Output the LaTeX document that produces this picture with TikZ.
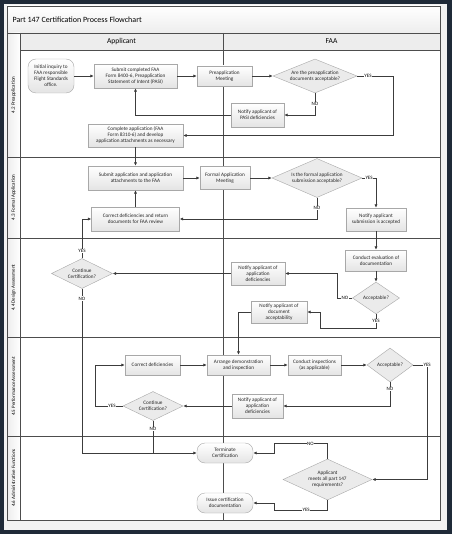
\documentclass[tikz,border=0pt]{standalone}
\usepackage{fontspec}
\setmainfont{Carlito}
\usetikzlibrary{shapes.geometric,arrows.meta}

\definecolor{bgdark}{HTML}{1F2A38}
\definecolor{panel}{HTML}{F2F2F2}
\definecolor{frameline}{HTML}{4D4D4D}
\definecolor{hdrfill}{HTML}{EDEDED}
\definecolor{boxline}{HTML}{A8A8A8}
\definecolor{boxfill}{HTML}{E4E4E4}
\definecolor{decfill}{HTML}{EBEBEB}
\definecolor{flowline}{HTML}{3C3C3C}

\tikzset{
  txt/.style={font=\fontsize{5.2}{6}\selectfont, text=black!85},
  box/.style={txt, draw=boxline, top color=white, bottom color=boxfill, align=center, inner sep=1pt},
  rbox/.style={box, rounded corners=8pt},
  dec/.style={txt, diamond, draw=boxline, fill=decfill, align=center, inner sep=0pt},
  lbl/.style={font=\fontsize{5}{5.5}\selectfont, fill=white, inner sep=0.5pt},
  flow/.style={draw=flowline, line width=0.85pt, -{Latex[length=3.5pt,width=3.2pt]}},
  lane/.style={draw=frameline, line width=0.7pt}
}

\begin{document}
\begin{tikzpicture}[x=1pt,y=-1pt]
\useasboundingbox (0,0) rectangle (452,534);
\fill[bgdark] (0,0) rectangle (452,534);
\fill[panel] (4,4) rectangle (447,530);

\begin{scope}[lane]
    \filldraw[fill=white] (7,6) rectangle (440,520);
    \shade[top color=white, bottom color=hdrfill] (7,6) rectangle (440,33);
    \fill[hdrfill] (20,33) rectangle (440,50);
    \shade[left color=hdrfill, right color=white] (7,33) rectangle (20,520);
    \draw (7,6) rectangle (440,520);
    \draw (7,33) -- (440,33);
    \draw (20,50) -- (440,50);
    \draw (20,33) -- (20,520);
    \draw (223,33) -- (223,520);
    \foreach \y in {157,238,337,436}
        \draw (7,\y) -- (440,\y);
\end{scope}

\node[anchor=west, font=\fontsize{8}{9}\selectfont] (title) at (9,20) {Part 147 Certification Process Flowchart};
\node[font=\fontsize{7.5}{8}\selectfont] (happ) at (121.5,41.5) {Applicant};
\node[font=\fontsize{7.5}{8}\selectfont] (hfaa) at (331.5,41.5) {FAA};

\foreach \y/\t [count=\i] in {95/4.2 Preapplication, 197.5/4.3 Formal Application, 287.5/4.4 Design Assessment, 386.5/4.5 Performance Assessment, 478/4.6 Administrative Functions}
    \node[rotate=90, font=\fontsize{5}{5.5}\selectfont] (lane\i) at (13.5,\y) {\t};

\begin{scope}[every node/.style={box}]
    \node[rbox, minimum width=46, minimum height=34] (inq) at (51,76) {Initial inquiry to\\FAA responsible\\Flight Standards\\office.};
    \node[minimum width=83, minimum height=24] (pasi) at (135.5,76) {Submit completed FAA\\Form 8400-6, Preapplication\\Statement of Intent (PASI)};
    \node[minimum width=55, minimum height=20] (pmeet) at (224.5,76) {Preapplication\\Meeting};
    \node[minimum width=53, minimum height=24] (ntpasi) at (257.5,115) {Notify applicant of\\PASI deficiencies};
    \node[minimum width=95, minimum height=23] (compl) at (135.5,135.5) {Complete application (FAA\\Form 8310-6) and develop\\application attachments as necessary};

    \node[minimum width=95, minimum height=24] (subm) at (135.5,178) {Submit application and application\\attachments to the FAA};
    \node[minimum width=50, minimum height=23] (fmeet) at (225,178) {Formal Application\\Meeting};
    \node[minimum width=60, minimum height=23] (ntacc) at (376,219.5) {Notify applicant\\submission is accepted};
    \node[minimum width=88, minimum height=24] (corr) at (135.5,219) {Correct deficiencies and return\\documents for FAA review};

    \node[minimum width=61, minimum height=21] (eval) at (376,260.5) {Conduct evaluation of\\documentation};
    \node[minimum width=54, minimum height=23] (ntdef) at (258,273.5) {Notify applicant of\\application\\deficiencies};
    \node[minimum width=56, minimum height=22] (ntdoc) at (279,312) {Notify applicant of\\document\\acceptability};

    \node[minimum width=55, minimum height=20] (corrb) at (152.5,365) {Correct deficiencies};
    \node[minimum width=63, minimum height=20] (arr) at (238.5,365) {Arrange demonstration\\and inspection};
    \node[minimum width=53, minimum height=20] (insp) at (314.5,365) {Conduct inspections\\(as applicable)};
    \node[minimum width=51, minimum height=24] (ntdefb) at (257.5,406) {Notify applicant of\\application\\deficiencies};

    \node[rbox, minimum width=56, minimum height=20] (term) at (225,453) {Terminate\\Certification};
    \node[rbox, minimum width=56, minimum height=20] (issue) at (225,503) {Issue certification\\documentation};
\end{scope}

\begin{scope}[every node/.style={dec}]
    \node[aspect=2.5, minimum width=84, minimum height=34] (dpre) at (315,76) {Are the preapplication\\documents acceptable?};
    \node[aspect=2.3, minimum width=90, minimum height=39] (dformal) at (317,178) {Is the formal application\\submission acceptable?};
    \node[aspect=1.5, minimum width=47, minimum height=32] (dacc) at (376,298) {Acceptable?};
    \node[aspect=2, minimum width=61, minimum height=30] (conta) at (82,273.5) {Continue\\Certification?};
    \node[aspect=1.35, minimum width=46, minimum height=34] (daccb) at (390,365) {Acceptable?};
    \node[aspect=2, minimum width=60, minimum height=29] (contb) at (153,406) {Continue\\Certification?};
    \node[aspect=2.2, minimum width=89, minimum height=41] (dmeet) at (327.5,479.5) {Applicant\\meets all part 147\\requirements?};
\end{scope}

\begin{scope}[flow]
    \path (inq) edge (pasi);
    \path (pasi) edge (pmeet);
    \path (pmeet) edge (dpre);
    \draw (dpre.east) -- node[lbl, pos=0.3] {YES} ++(36,0) |- (compl.east);
    \draw (dpre.south) |- node[lbl, pos=0.25] {NO} (ntpasi.east);
    \draw (ntpasi.west) -| (pasi.south);
    \path (compl) edge (subm);

    \path (subm) edge (fmeet);
    \path (fmeet) edge (dformal);
    \draw (dformal.east) -| node[lbl, pos=0.25] {YES} (ntacc.north);
    \draw (dformal.south) |- node[lbl, pos=0.25] {NO} (corr.east);
    \path (corr) edge (subm);

    \path (ntacc) edge (eval);
    \path (eval) edge (dacc);
    \draw (dacc.west) -- node[lbl] {NO} ++(-15,0) |- (ntdef.east);
    \path (ntdef.west) edge (conta.east);
    \draw (conta.north) |- node[lbl, pos=0.09] {YES} (corr.west);
    \draw (conta.south) |- node[lbl, pos=0.03] {NO} (term.west);
    \draw (dacc.south) -- node[lbl] {YES} ++(0,14) -| ([xshift=13pt]ntdoc.east) -- (ntdoc.east);
    \draw (ntdoc.west) -| (arr.north);

    \path (corrb) edge (arr);
    \path (arr) edge (insp);
    \path (insp) edge (daccb);
    \draw (daccb.east) -- ++(14,0) node[lbl] {YES} |- (dmeet.east);
    \draw (daccb.south) |- node[lbl, pos=0.15] {NO} (ntdefb.east);
    \path (ntdefb.west) edge (contb.east);
    \draw (contb.west) -- node[lbl, pos=0.4] {YES} ++(-27,0) |- (corrb.west);
    \draw[-] (contb.south) -- node[lbl, pos=0.25] {NO} (contb.south |- term.west);

    \draw (dmeet.north) -- ++(0,-15) -| node[lbl, pos=0.16] {NO} ([xshift=21pt]term.east) -- (term.east);
    \draw (dmeet.south) -- ++(0,10) -| node[lbl, pos=0.2] {YES} ([xshift=21pt]issue.east) -- (issue.east);
\end{scope}

\end{tikzpicture}
\end{document}
